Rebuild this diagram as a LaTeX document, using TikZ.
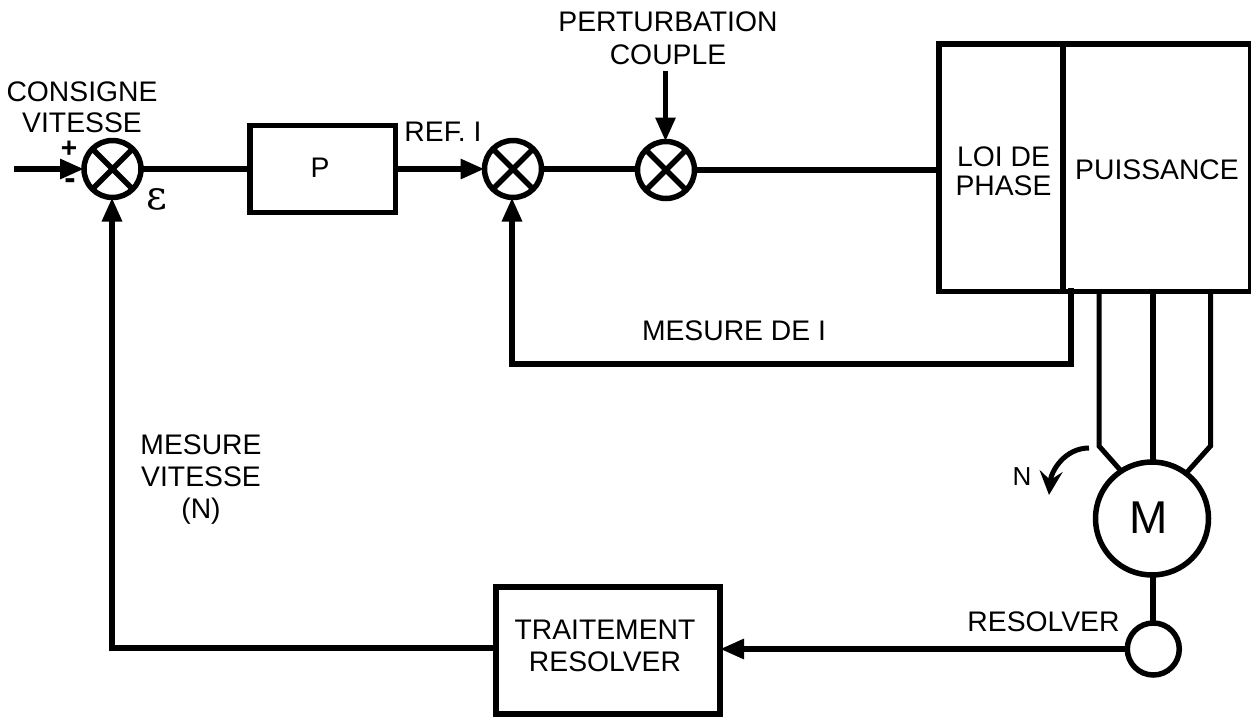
\documentclass[tikz,border=0pt]{standalone}
\usepackage{fontspec}
\setmainfont{Liberation Sans}
\usetikzlibrary{arrows.meta,calc}
\tikzset{
  wire/.style={line width=5.8pt,draw=black,line join=miter},
  thin wire/.style={line width=5pt,draw=black,line join=miter},
  arr/.style={wire,-{Triangle[length=24pt,width=19pt]}},
  blockbox/.style={draw=black,line width=5.5pt,fill=white,inner sep=0pt,outer sep=0pt,anchor=north west},
  sumnode/.style={circle,draw=black,line width=5.5pt,minimum size=57pt,inner sep=0pt,outer sep=0pt,fill=white,
     path picture={\draw[line width=5.5pt] (path picture bounding box.north west)--(path picture bounding box.south east)
       (path picture bounding box.north east)--(path picture bounding box.south west);}},
  lab/.style={align=center,inner sep=0pt,font=\fontsize{28.3pt}{33pt}\selectfont},
  labtight/.style={align=center,inner sep=0pt,font=\fontsize{28.3pt}{31pt}\selectfont},
}
\begin{document}
\begin{tikzpicture}[x=1pt,y=-1pt]
\useasboundingbox (0,0) rectangle (1251,716);
\node[sumnode] (s1) at (112.5,169) {};
\node[sumnode] (s2) at (513,169) {};
\node[sumnode] (s3) at (666,170) {};
\node[blockbox,minimum width=145.5pt,minimum height=87pt] (p) at (250,125.5) {};
\node[blockbox,minimum width=124pt,minimum height=247.5pt] (loi) at (939,44) {};
\node[blockbox,minimum width=188pt,minimum height=247.5pt] (pu) at (1063,44) {};
\node[blockbox,minimum width=224pt,minimum height=127pt] (tr) at (496,587) {};
\node[circle,draw=black,line width=5.5pt,minimum size=113pt,inner sep=0pt,outer sep=0pt] (m) at (1152,518.5) {};
\node[circle,draw=black,line width=5.5pt,minimum size=52pt,inner sep=0pt,outer sep=0pt] (r) at (1153.3,649) {};
\coordinate (in) at (14,169);
\coordinate (pt) at (665.5,71);
\coordinate (fb1) at (1071,288);
\coordinate (fb2) at (1071,364);
\coordinate (fb3) at (512,364);
\coordinate (vb) at (112,648);
\draw[arr] (in) -- (s1.west);
\draw[wire] (s1.east) -- (p.west |- s1.east);
\draw[arr] (p.east |- s2.west) -- (s2.west);
\draw[wire] (s2.east) -- (s3.west |- s2.east);
\draw[wire] (s3.east) -- (loi.west |- s3.east);
\draw[arr] (pt) -- (pt |- s3.north);
\draw[arr] (fb1) -- (fb2) -- (fb3) -- (fb3 |- s2.south);
\draw[arr] (tr.west |- vb) -- (vb) -- (vb |- s1.south);
\draw[arr] (r.west) -- (tr.east |- r.west);
\draw[wire,line width=6pt] (r.north |- m.south) -- (r.north);
\coordinate (wl) at (1099,291);
\coordinate (wl2) at (1099,446);
\coordinate (wm) at (1153,291);
\coordinate (wr) at (1210.5,291);
\coordinate (wr2) at (1210.5,446);
\draw[thin wire] (wl) -- (wl2) -- (m.123);
\draw[wire,line width=6pt] (wm) -- (wm |- m.north);
\draw[thin wire] (wr) -- (wr2) -- (m.53);
\coordinate (na) at (1089,448);
\coordinate (nb) at (1049,495);
\draw[line width=5pt,-{Stealth[length=24pt,width=23pt,inset=9pt]}] (na) to[out=180,in=85] (nb);
\node[lab] (tp) at (320,168) {P};
\node[labtight,font=\fontsize{28.3pt}{29pt}\selectfont] (tl) at (1003.5,171.5) {LOI DE\\PHASE};
\node[lab] (tpu) at (1157,170) {PUISSANCE};
\node[lab,font=\fontsize{28.3pt}{32pt}\selectfont] (ttr) at (605,646) {TRAITEMENT\\RESOLVER};
\node[lab,font=\fontsize{46pt}{46pt}\selectfont] (tm) at (1149,518) {M};
\node[labtight] (tc) at (82,107.5) {CONSIGNE\\VITESSE};
\node[lab] (tpe) at (668,38.5) {PERTURBATION\\COUPLE};
\node[lab] (tref) at (443,132) {REF. I};
\node[lab] (tmi) at (734,331) {MESURE DE I};
\node[lab,font=\fontsize{28.3pt}{32pt}\selectfont] (tmv) at (201,480) {MESURE\\VITESSE\\(N)};
\node[lab] (tres) at (1043.5,622) {RESOLVER};
\node[lab,font=\fontsize{26pt}{26pt}\selectfont] (tn) at (1022,477) {N};
\node[lab,font=\bfseries\fontsize{28pt}{28pt}\selectfont] (tplus) at (69,149) {+};
\node[lab,font=\bfseries\fontsize{34pt}{34pt}\selectfont] (tminus) at (70,184) {-};
\node[lab,font=\fontsize{40pt}{40pt}\selectfont] (teps) at (157,199) {\fontspec{DejaVu Serif}ε};
\end{tikzpicture}
\end{document}
